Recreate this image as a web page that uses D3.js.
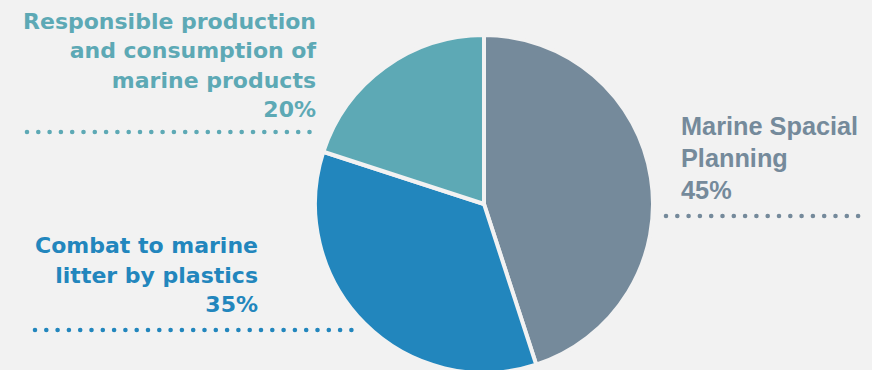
<!DOCTYPE html>
<html>
<head>
<meta charset="utf-8">
<script src="https://cdn.jsdelivr.net/npm/d3@7"></script>
<style>
  html, body { margin: 0; padding: 0; background: #f2f2f2; }
  svg { display: block; }
</style>
</head>
<body>
<script>
'use strict'

const categories = ['Marine Spacial Planning', 'Combat to marine litter by plastics', 'Responsible production and consumption of marine products'],
      values = [45, 35, 20],
      colors = ['#758a9b', '#2286bd', '#5da9b5'],
      labelLines = [
        ['Marine Spacial', 'Planning', '45%'],
        ['Combat to marine', 'litter by plastics', '35%'],
        ['Responsible production', 'and consumption of', 'marine products', '20%']
      ];

const width = 872, height = 370,
      cx = 484, cy = 204, radius = 169;

const svg = d3.select('body').append('svg')
  .attr('width', width)
  .attr('height', height);

svg.append('rect')
  .attr('width', width).attr('height', height)
  .attr('fill', '#f2f2f2');

const pie = d3.pie().sort(null).value(d => d)
const arc = d3.arc().innerRadius(0).outerRadius(radius)

const g = svg.append('g')
  .attr('transform', 'translate(' + [cx, cy] + ')')

g.selectAll('path')
  .data(pie(values))
  .enter()
  .append('path')
  .attr('d', arc)
  .attr('fill', (d, i) => colors[i])
  .attr('stroke', '#f2f2f2')
  .attr('stroke-width', 4)
  .attr('stroke-linejoin', 'round')

// label blocks: anchor, x, first baseline, line step, font size, leader line
const labelPos = [
  {anchor: 'start', x: 681, y: 135, step: 32, size: 25.3, font: "'Liberation Sans', Arial", dots: [666, 862, 216]},
  {anchor: 'end', x: 258, y: 253, step: 29.5, size: 22, font: "'DejaVu Sans'", dots: [35, 358, 330]},
  {anchor: 'end', x: 316, y: 29, step: 29.4, size: 22, font: "'DejaVu Sans'", dots: [27, 320, 132]}
]

labelPos.forEach((p, i) => {
  const t = svg.append('text')
    .attr('text-anchor', p.anchor)
    .attr('font-family', p.font + ', sans-serif')
    .attr('font-weight', 'bold')
    .attr('font-size', p.size)
    .attr('fill', colors[i])

  labelLines[i].forEach((line, j) => {
    t.append('tspan')
      .attr('x', p.x)
      .attr('y', p.y + j * p.step)
      .text(line)
  })

  svg.append('line')
    .attr('x1', p.dots[0]).attr('x2', p.dots[1])
    .attr('y1', p.dots[2]).attr('y2', p.dots[2])
    .attr('stroke', colors[i])
    .attr('stroke-width', 4.6)
    .attr('stroke-linecap', 'round')
    .attr('stroke-dasharray', '0 11.3')
})
</script>
</body>
</html>
